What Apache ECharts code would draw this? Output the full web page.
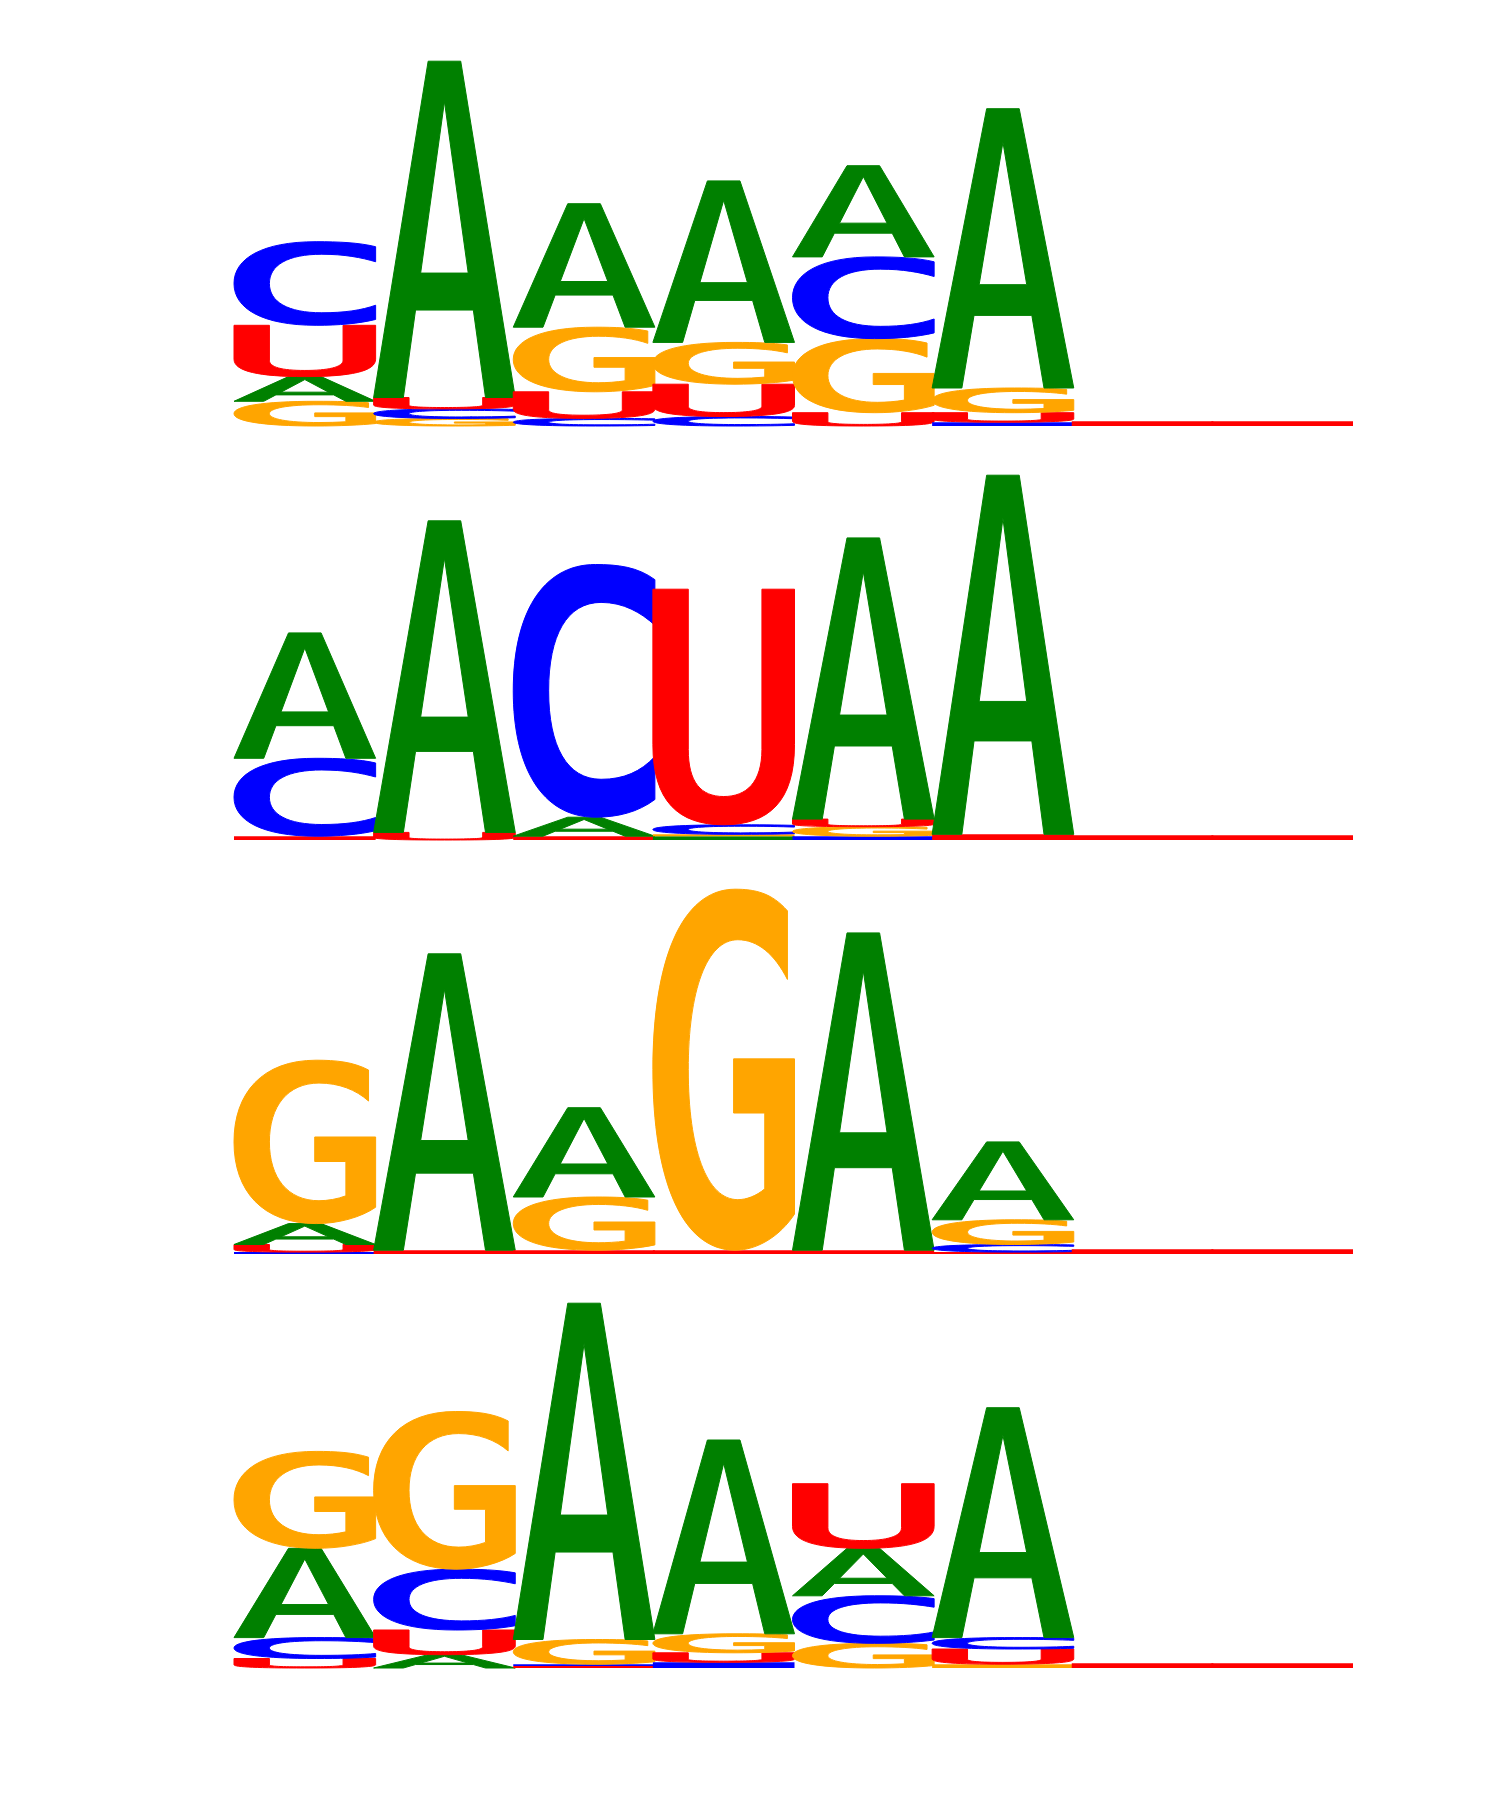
<!DOCTYPE html>
<html>
<head>
<meta charset="utf-8">
<title>RNA motif logos</title>
<script src="https://cdn.jsdelivr.net/npm/echarts/dist/echarts.min.js"></script>
<style>
    html, body { margin: 0; padding: 0; background: #ffffff; }
    #logo { width: 1500px; height: 1800px; }
</style>
</head>
<body>
<div id="logo"></div>
<script>
// bases and their colours
const bases = ['A', 'C', 'G', 'U']
const baseColors = ['#008000', '#0000ff', '#ffa500', '#ff0000']
const positions = [1, 2, 3, 4, 5, 6, 7, 8]

// information per base (bits), each column listed bottom -> top
const motif1 = [
    [['G', 0.13], ['A', 0.13], ['U', 0.27], ['C', 0.44]],
    [['G', 0.04], ['C', 0.05], ['U', 0.06], ['A', 1.77]],
    [['C', 0.04], ['U', 0.14], ['G', 0.34], ['A', 0.65]],
    [['C', 0.05], ['U', 0.17], ['G', 0.22], ['A', 0.85]],
    [['U', 0.07], ['G', 0.39], ['C', 0.43], ['A', 0.48]],
    [['C', 0.02], ['U', 0.05], ['G', 0.13], ['A', 1.47]],
    [['U', 0.025]],
    [['U', 0.025]],
]
const motif2 = [
    [['U', 0.02], ['C', 0.41], ['A', 0.66]],
    [['U', 0.04], ['A', 1.64]],
    [['U', 0.02], ['A', 0.1], ['C', 1.33]],
    [['A', 0.02], ['G', 0.01], ['C', 0.05], ['U', 1.24]],
    [['C', 0.02], ['G', 0.05], ['U', 0.04], ['A', 1.48]],
    [['U', 0.03], ['A', 1.89]],
    [['U', 0.025]],
    [['U', 0.025]],
]
const motif3 = [
    [['C', 0.01], ['U', 0.04], ['A', 0.11], ['G', 0.86]],
    [['U', 0.02], ['A', 1.56]],
    [['U', 0.02], ['G', 0.28], ['A', 0.47]],
    [['U', 0.02], ['G', 1.9]],
    [['U', 0.02], ['A', 1.67]],
    [['U', 0.01], ['C', 0.04], ['G', 0.13], ['A', 0.41]],
    [['U', 0.025]],
    [['U', 0.025]],
]
const motif4 = [
    [['U', 0.05], ['C', 0.11], ['A', 0.47], ['G', 0.51]],
    [['A', 0.07], ['U', 0.13], ['C', 0.32], ['G', 0.83]],
    [['U', 0.01], ['C', 0.01], ['G', 0.13], ['A', 1.77]],
    [['C', 0.03], ['U', 0.05], ['G', 0.1], ['A', 1.02]],
    [['G', 0.13], ['C', 0.25], ['A', 0.25], ['U', 0.34]],
    [['G', 0.02], ['U', 0.08], ['C', 0.06], ['A', 1.21]],
    [['U', 0.025]],
    [['U', 0.025]],
]
const motifs = [motif1, motif2, motif3, motif4]

// glyph outlines in a 100x100 box, stretched to each letter's slot
const glyphs = {
    A: 'M0,100 L38.5,0 L61.5,0 L100,100 L79,100 L70.4,74 L29.6,74 L21,100 Z ' +
        'M50,12 L33.2,63 L66.8,63 Z',
    C: 'M100,6 C88,1 74,0 58,0 C20,0 0,20 0,50 C0,80 20,100 58,100 C74,100 88,98 100,93 ' +
        'L100,76 C90,82 78,85 62,85 C38,85 25,72 25,50 C25,28 38,15 62,15 C78,15 90,19 100,24 Z',
    G: 'M95,6 C84,1 72,0 58,0 C20,0 0,20 0,50 C0,80 20,100 58,100 C74,100 90,96 100,90 ' +
        'L100,47 L57,47 L57,62 L79,62 L79,83 C73,85 66,86 60,86 C38,86 25,72 25,50 ' +
        'C25,28 38,14 60,14 C74,14 86,18 95,25 Z',
    U: 'M0,0 L25,0 L25,68 C25,82 34,88 50,88 C66,88 77,82 77,68 L77,0 L100,0 L100,66 ' +
        'C100,90 82,100 50,100 C18,100 0,90 0,66 Z',
}

const baselines = [426, 840, 1254, 1668]
const panelHeight = 380

const stackData = (motif) => {
    let rows = []
    motif.forEach((col, i) => {
        let y = 0
        col.forEach(([b, h]) => {
            rows.push([i, y, y + h, bases.indexOf(b)])
            y += h
        })
    })
    return rows
}

const renderLetter = (params, api) => {
    let pos = api.value(0)
    let bi = api.value(3)
    let p0 = api.coord([pos, api.value(1)])
    let p1 = api.coord([pos + 1, api.value(2)])
    let h = p0[1] - p1[1]
    if (h <= 0) return
    let box = { x: p0[0] - 1, y: p1[1], width: p1[0] - p0[0] + 2, height: h }
    // squashed letters read as a solid band
    if (h < 6) {
        return { type: 'rect', shape: box, style: { fill: baseColors[bi] } }
    }
    return {
        type: 'path',
        shape: Object.assign({ pathData: glyphs[bases[bi]], layout: 'cover' }, box),
        style: { fill: baseColors[bi], stroke: baseColors[bi], lineWidth: 1 },
    }
}

const chart = echarts.init(document.getElementById('logo'))
chart.setOption({
    animation: false,
    backgroundColor: '#ffffff',
    grid: baselines.map((b) => ({ left: 235, width: 1117, top: b - panelHeight, height: panelHeight })),
    xAxis: baselines.map((b, i) => ({ type: 'value', gridIndex: i, min: 0, max: positions.length, show: false })),
    yAxis: baselines.map((b, i) => ({ type: 'value', gridIndex: i, min: 0, max: 2, show: false })),
    series: motifs.map((m, i) => ({
        type: 'custom',
        xAxisIndex: i,
        yAxisIndex: i,
        renderItem: renderLetter,
        encode: { x: 0, y: [1, 2] },
        data: stackData(m),
    })),
})
</script>
</body>
</html>
